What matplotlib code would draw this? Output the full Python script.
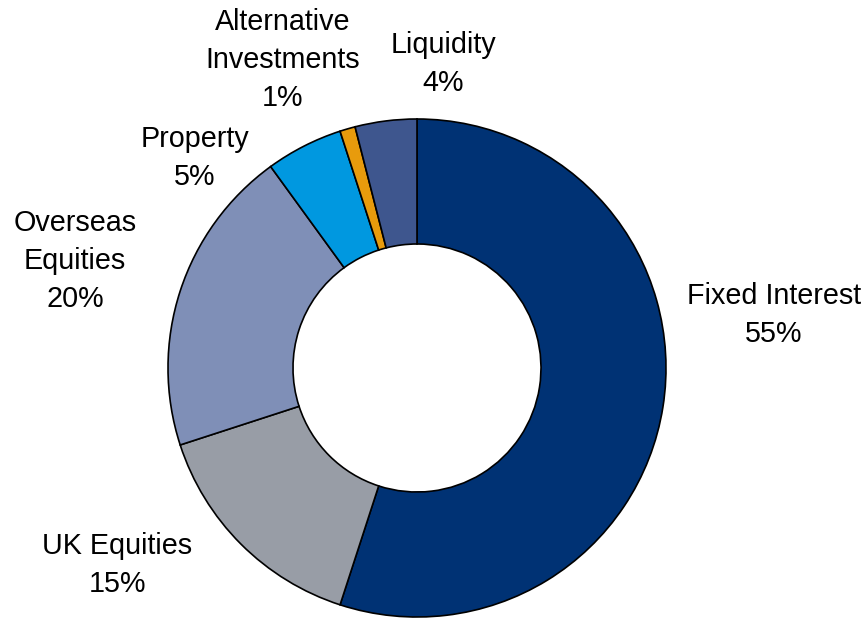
import matplotlib
matplotlib.use("Agg")
import matplotlib.pyplot as plt

categories = ["Fixed Interest", "UK Equities", "Overseas\nEquities", "Property",
              "Alternative\nInvestments", "Liquidity"]
values = [55, 15, 20, 5, 1, 4]
colors = ["#003274", "#989da6", "#7f8fb7", "#0098e0", "#e89b0c", "#3e568e"]

# label block centres in figure pixels (layout only)
label_pos_px = [(774, 315), (117, 565), (75, 261), (195, 158), (283, 60), (443, 64)]

W, H = 867, 618
cx, cy, R = 417, 368, 249

plt.rcParams['font.family'] = ['Liberation Sans', 'DejaVu Sans']
fig = plt.figure(figsize=(W / 100, H / 100), dpi=100)
ax = fig.add_axes([0, 0, 1, 1])
ax.axis('off')

ax.pie(values, colors=colors, startangle=90, counterclock=False, radius=1.0,
       wedgeprops=dict(width=0.502, edgecolor='black', linewidth=1.2))
ax.set_xlim(-cx / R, (W - cx) / R)
ax.set_ylim(-(H - cy) / R, cy / R)
ax.set_aspect('auto')

for cat, v, (px, py) in zip(categories, values, label_pos_px):
    ax.text(px / W, 1 - py / H, f"{cat}\n{v}%", transform=ax.transAxes,
            ha='center', va='center', multialignment='center',
            fontsize=20.7, linespacing=1.45, color='black')

fig.savefig("out.png", dpi=100)
